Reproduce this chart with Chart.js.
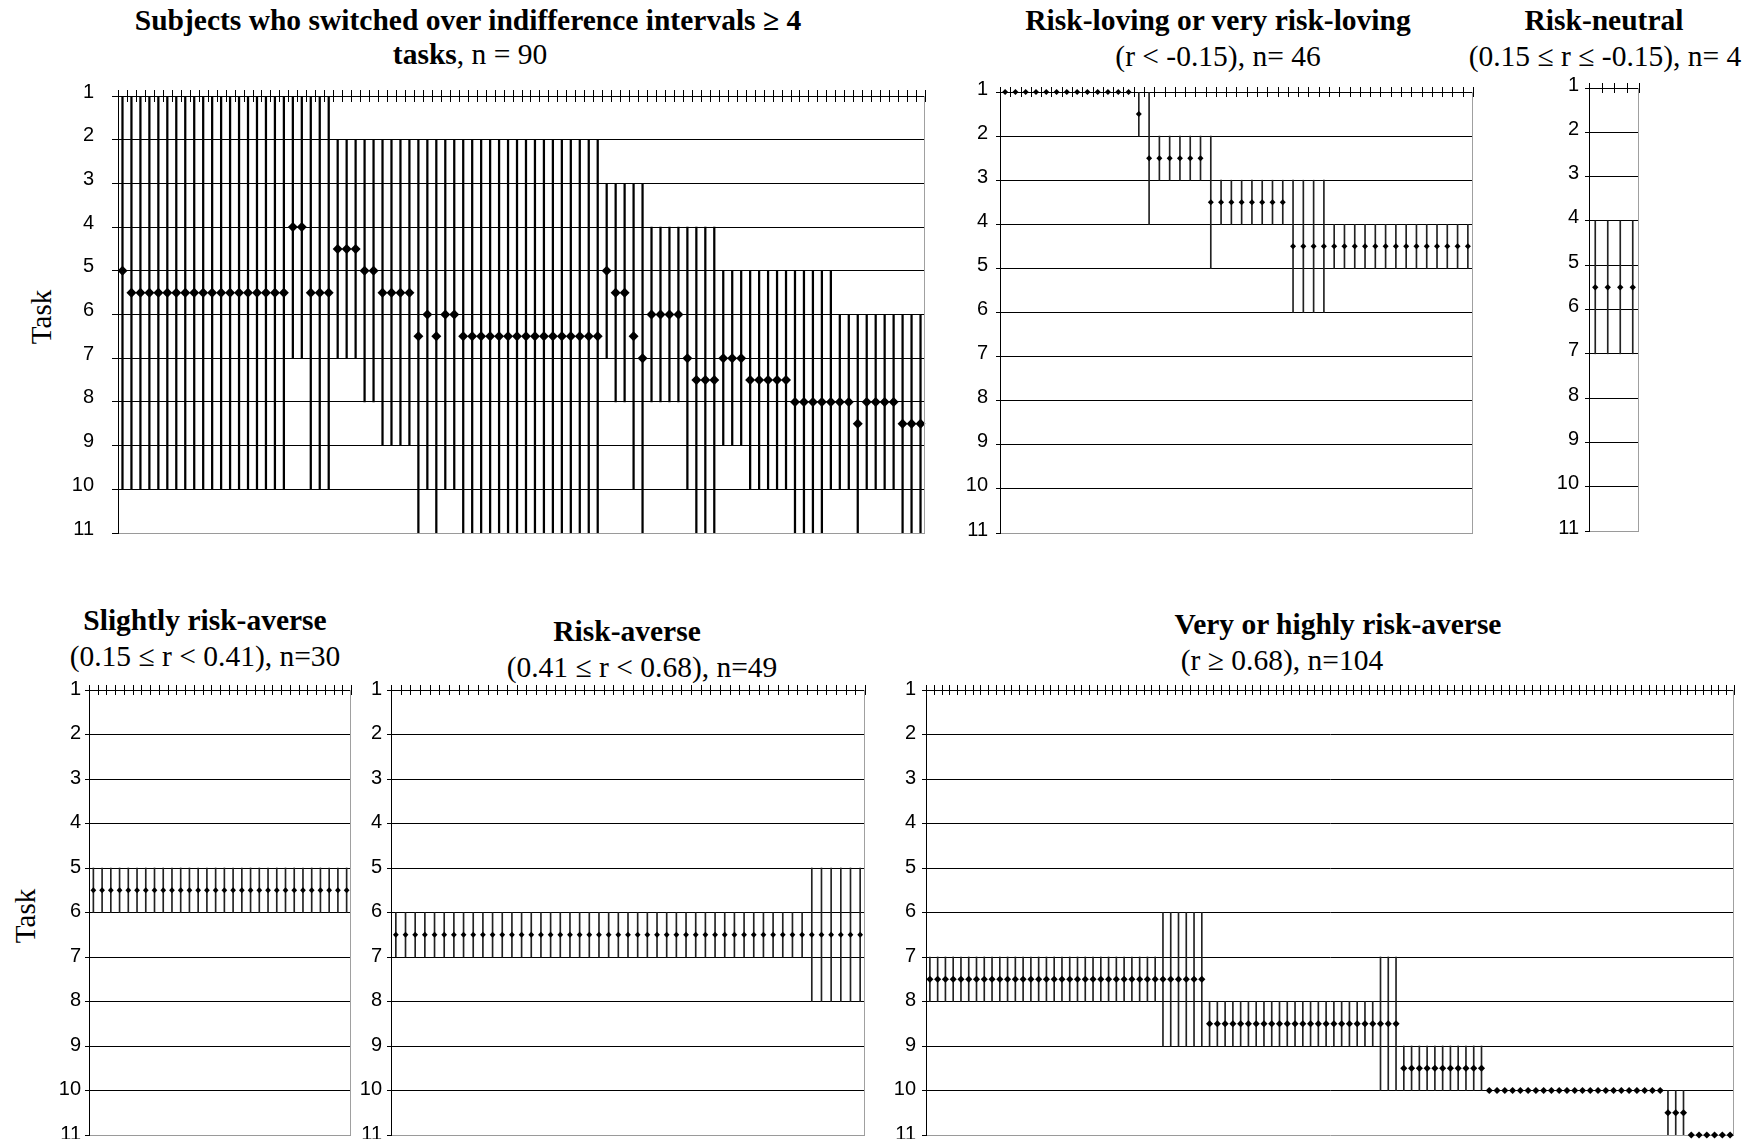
<!DOCTYPE html>
<html>
<head>
<meta charset="utf-8">
<script src="https://cdn.jsdelivr.net/npm/chart.js@4.4.1/dist/chart.umd.min.js"></script>
<style>
  html, body { margin: 0; padding: 0; background: #fff; }
  body { width: 1756px; height: 1139px; position: relative; overflow: hidden; }
  .box { position: absolute; }
  .lbl { position: absolute; transform: translate(-50%, -50%); white-space: nowrap;
         font-family: 'Liberation Serif', 'Times New Roman', serif; font-size: 29.5px; color: #000; }
  .task { position: absolute; transform: translate(-50%, -50%) rotate(-90deg);
          font-family: 'Liberation Serif', 'Times New Roman', serif; font-size: 29px; }
</style>
</head>
<body>

<div class="lbl" style="left:468px;top:20px"><b>Subjects who switched over indifference intervals ≥ 4</b></div>
<div class="lbl" style="left:470px;top:54px"><b>tasks</b>, n = 90</div>
<div class="lbl" style="left:1218px;top:20px"><b>Risk-loving or very risk-loving</b></div>
<div class="lbl" style="left:1218px;top:56px">(r &lt; -0.15), n= 46</div>
<div class="lbl" style="left:1604px;top:20px"><b>Risk-neutral</b></div>
<div class="lbl" style="left:1605px;top:56px">(0.15 ≤ r ≤ -0.15), n= 4</div>
<div class="lbl" style="left:205px;top:620px"><b>Slightly risk-averse</b></div>
<div class="lbl" style="left:205px;top:656px">(0.15 ≤ r &lt; 0.41), n=30</div>
<div class="lbl" style="left:627px;top:631px"><b>Risk-averse</b></div>
<div class="lbl" style="left:642px;top:667px">(0.41 ≤ r &lt; 0.68), n=49</div>
<div class="lbl" style="left:1338px;top:624px"><b>Very or highly risk-averse</b></div>
<div class="lbl" style="left:1282px;top:660px">(r ≥ 0.68), n=104</div>
<div class="task" style="left:41px;top:317px">Task</div>
<div class="task" style="left:25px;top:916px">Task</div>

<div class="box" id="b1"><canvas id="c1"></canvas></div>
<div class="box" id="b2"><canvas id="c2"></canvas></div>
<div class="box" id="b3"><canvas id="c3"></canvas></div>
<div class="box" id="b4"><canvas id="c4"></canvas></div>
<div class="box" id="b5"><canvas id="c5"></canvas></div>
<div class="box" id="b6"><canvas id="c6"></canvas></div>

<script>
// task ticks on the (reversed) y axis
var taskTicks = [1, 2, 3, 4, 5, 6, 7, 8, 9, 10, 11];

// switched over >= 4 tasks, n = 90
var p1Low = [1,1,1,1,1,1,1,1,1,1, 1,1,1,1,1,1,1,1,1,1, 1,1,1,1,2,2,2,2,2,2,
             2,2,2,2,2,2,2,2,2,2, 2,2,2,2,2,2,2,2,2,2, 2,2,2,2,3,3,3,3,3,4,
             4,4,4,4,4,4,4,5,5,5, 5,5,5,5,5,5,5,5,5,5, 6,6,6,6,6,6,6,6,6,6];
var p1High = [10,10,10,10,10,10,10,10,10,10, 10,10,10,10,10,10,10,10,10,7, 7,10,10,10,7,7,7,8,8,9,
              9,9,9,11,10,11,10,10,11,11, 11,11,11,11,11,11,11,11,11,11, 11,11,11,11,7,8,8,10,11,8,
              8,8,8,10,11,11,11,9,9,9, 10,10,10,10,10,11,11,11,11,10, 10,10,11,10,10,10,10,11,11,11];
var p1Mark = [5,5.5,5.5,5.5,5.5,5.5,5.5,5.5,5.5,5.5, 5.5,5.5,5.5,5.5,5.5,5.5,5.5,5.5,5.5,4,
              4,5.5,5.5,5.5,4.5,4.5,4.5,5,5,5.5, 5.5,5.5,5.5,6.5,6,6.5,6,6,6.5,6.5,
              6.5,6.5,6.5,6.5,6.5,6.5,6.5,6.5,6.5,6.5, 6.5,6.5,6.5,6.5,5,5.5,5.5,6.5,7,6,
              6,6,6,7,7.5,7.5,7.5,7,7,7, 7.5,7.5,7.5,7.5,7.5,8,8,8,8,8,
              8,8,8.5,8,8,8,8,8.5,8.5,8.5];

// risk-loving, n = 46
var p2Low = [1,1,1,1,1,1,1,1,1,1, 1,1,1,1,1,2,2,2,2,2, 2,3,3,3,3,3,3,3,3,3,
             3,3,4,4,4,4,4,4,4,4, 4,4,4,4,4,4];
var p2High = [1,1,1,1,1,1,1,1,1,1, 1,1,1,2,4,3,3,3,3,3, 5,4,4,4,4,4,4,4,6,6,
              6,6,5,5,5,5,5,5,5,5, 5,5,5,5,5,5];
var p2Mark = [1,1,1,1,1,1,1,1,1,1, 1,1,1,1.5,2.5,2.5,2.5,2.5,2.5,2.5,
              3.5,3.5,3.5,3.5,3.5,3.5,3.5,3.5,4.5,4.5, 4.5,4.5,4.5,4.5,4.5,4.5,4.5,4.5,4.5,4.5,
              4.5,4.5,4.5,4.5,4.5,4.5];

// risk-neutral, n = 4
var p3Low = [4, 4, 4, 4];
var p3High = [7, 7, 7, 7];
var p3Mark = [5.5, 5.5, 5.5, 5.5];

// slightly risk-averse, n = 30
var p4Low = [5,5,5,5,5,5,5,5,5,5, 5,5,5,5,5,5,5,5,5,5, 5,5,5,5,5,5,5,5,5,5];
var p4High = [6,6,6,6,6,6,6,6,6,6, 6,6,6,6,6,6,6,6,6,6, 6,6,6,6,6,6,6,6,6,6];
var p4Mark = [5.5,5.5,5.5,5.5,5.5,5.5,5.5,5.5,5.5,5.5, 5.5,5.5,5.5,5.5,5.5,5.5,5.5,5.5,5.5,5.5,
              5.5,5.5,5.5,5.5,5.5,5.5,5.5,5.5,5.5,5.5];

// risk-averse, n = 49
var p5Low = [6,6,6,6,6,6,6,6,6,6, 6,6,6,6,6,6,6,6,6,6, 6,6,6,6,6,6,6,6,6,6,
             6,6,6,6,6,6,6,6,6,6, 6,6,6,5,5,5,5,5,5];
var p5High = [7,7,7,7,7,7,7,7,7,7, 7,7,7,7,7,7,7,7,7,7, 7,7,7,7,7,7,7,7,7,7,
              7,7,7,7,7,7,7,7,7,7, 7,7,7,8,8,8,8,8,8];
var p5Mark = [6.5,6.5,6.5,6.5,6.5,6.5,6.5,6.5,6.5,6.5, 6.5,6.5,6.5,6.5,6.5,6.5,6.5,6.5,6.5,6.5,
              6.5,6.5,6.5,6.5,6.5,6.5,6.5,6.5,6.5,6.5, 6.5,6.5,6.5,6.5,6.5,6.5,6.5,6.5,6.5,6.5,
              6.5,6.5,6.5,6.5,6.5,6.5,6.5,6.5,6.5];

// very or highly risk-averse, n = 104
var p6Low = [7,7,7,7,7,7,7,7,7,7, 7,7,7,7,7,7,7,7,7,7, 7,7,7,7,7,7,7,7,7,7,
             6,6,6,6,6,6,8,8,8,8, 8,8,8,8,8,8,8,8,8,8, 8,8,8,8,8,8,8,8,7,7,
             7,9,9,9,9,9,9,9,9,9, 9,9,10,10,10,10,10,10,10,10, 10,10,10,10,10,10,10,10,10,10,
             10,10,10,10,10,10,10,10,11,11, 11,11,11,11];
var p6High = [8,8,8,8,8,8,8,8,8,8, 8,8,8,8,8,8,8,8,8,8, 8,8,8,8,8,8,8,8,8,8,
              9,9,9,9,9,9,9,9,9,9, 9,9,9,9,9,9,9,9,9,9, 9,9,9,9,9,9,9,9,10,10,
              10,10,10,10,10,10,10,10,10,10, 10,10,10,10,10,10,10,10,10,10, 10,10,10,10,10,10,10,10,10,10,
              10,10,10,10,10,11,11,11,11,11, 11,11,11,11];
var p6Mark = [7.5,7.5,7.5,7.5,7.5,7.5,7.5,7.5,7.5,7.5, 7.5,7.5,7.5,7.5,7.5,7.5,7.5,7.5,7.5,7.5,
              7.5,7.5,7.5,7.5,7.5,7.5,7.5,7.5,7.5,7.5, 7.5,7.5,7.5,7.5,7.5,7.5,8.5,8.5,8.5,8.5,
              8.5,8.5,8.5,8.5,8.5,8.5,8.5,8.5,8.5,8.5, 8.5,8.5,8.5,8.5,8.5,8.5,8.5,8.5,8.5,8.5,
              8.5,9.5,9.5,9.5,9.5,9.5,9.5,9.5,9.5,9.5, 9.5,9.5,10,10,10,10,10,10,10,10,
              10,10,10,10,10,10,10,10,10,10, 10,10,10,10,10,10.5,10.5,10.5,11,11,
              11,11,11,11];

// cross ticks on the category axis + grey right edge
var frame = {
  id: 'frame',
  afterDraw: function (chart, args, opts) {
    var ctx = chart.ctx, a = chart.chartArea, x = chart.scales.x;
    var n = chart.data.labels.length;
    var step = n > 1 ? x.getPixelForValue(1) - x.getPixelForValue(0) : (a.right - a.left);
    ctx.save();
    ctx.lineWidth = 1;
    ctx.strokeStyle = '#a0a0a0';
    ctx.beginPath();
    ctx.moveTo(Math.round(a.right) - 0.5, a.top);
    ctx.lineTo(Math.round(a.right) - 0.5, a.bottom);
    ctx.stroke();
    ctx.strokeStyle = '#000';
    ctx.beginPath();
    for (var i = 0; i <= n; i++) {
      var px = Math.round(x.getPixelForValue(0) - step / 2 + i * step) + 0.5;
      ctx.moveTo(px, a.top - opts.up);
      ctx.lineTo(px, a.top + opts.down);
    }
    ctx.stroke();
    ctx.restore();
  }
};

function makePanel(id, box, low, high, mark, st) {
  var el = document.getElementById('b' + id);
  var yW = 60, padV = 40;
  el.style.left = (box.L - yW) + 'px';
  el.style.top = (box.T - padV) + 'px';
  el.style.width = (box.R - box.L + yW + 2) + 'px';
  el.style.height = (box.B - box.T + 2 * padV) + 'px';

  var labels = low.map(function (v, i) { return i + 1; });
  var ranges = low.map(function (v, i) { return [v, high[i]]; });

  return new Chart(document.getElementById('c' + id), {
    type: 'bar',
    data: {
      labels: labels,
      datasets: [{
        type: 'line',
        data: mark,
        showLine: false,
        pointStyle: 'rectRot',
        pointRadius: st.dot,
        pointBackgroundColor: '#000',
        pointBorderWidth: 0,
        clip: false,
        order: 0
      }, {
        type: 'bar',
        data: ranges,
        backgroundColor: st.lineColor,
        barThickness: st.line,
        borderSkipped: false,
        order: 1
      }]
    },
    options: {
      responsive: true,
      maintainAspectRatio: false,
      animation: false,
      events: [],
      layout: { autoPadding: false, padding: { top: padV, bottom: padV, left: 0, right: 2 } },
      plugins: {
        legend: { display: false },
        tooltip: { enabled: false },
        frame: { up: st.up, down: st.down }
      },
      scales: {
        x: { display: false, offset: true },
        y: {
          reverse: true,
          min: 1,
          max: 11,
          afterFit: function (s) { s.width = yW; },
          afterBuildTicks: function (s) {
            s.ticks = taskTicks.map(function (v) { return { value: v }; });
          },
          ticks: {
            padding: st.pad,
            labelOffset: st.lift,
            color: '#000',
            font: { family: "'Liberation Sans', Arial, sans-serif", size: 20 }
          },
          grid: {
            color: function (c) { return c.tick && c.tick.value === 11 ? '#9a9a9a' : '#000'; },
            tickColor: '#000',
            tickLength: st.tick,
            lineWidth: 1
          },
          border: { display: true, color: '#000', width: 1 }
        }
      }
    },
    plugins: [frame]
  });
}

makePanel(1, { L: 118, R: 925, T: 96, B: 533 }, p1Low, p1High, p1Mark,
  { dot: 5, line: 1.6, lineColor: '#000', tick: 6, pad: 18, lift: -4, up: 6, down: 6 });
makePanel(2, { L: 1000, R: 1473, T: 92, B: 533 }, p2Low, p2High, p2Mark,
  { dot: 3, line: 1, lineColor: '#222', tick: 4, pad: 8, lift: -3, up: 5, down: 5 });
makePanel(3, { L: 1589, R: 1639, T: 88, B: 531 }, p3Low, p3High, p3Mark,
  { dot: 3.2, line: 1, lineColor: '#222', tick: 4, pad: 6, lift: -3, up: 5, down: 5 });
makePanel(4, { L: 89, R: 351, T: 690, B: 1135 }, p4Low, p4High, p4Mark,
  { dot: 2.9, line: 1, lineColor: '#222', tick: 4, pad: 4, lift: -1, up: 5, down: 5 });
makePanel(5, { L: 391, R: 865, T: 690, B: 1135 }, p5Low, p5High, p5Mark,
  { dot: 2.9, line: 1, lineColor: '#222', tick: 4, pad: 5, lift: -1, up: 5, down: 5 });
makePanel(6, { L: 926, R: 1734, T: 690, B: 1135 }, p6Low, p6High, p6Mark,
  { dot: 3.6, line: 1, lineColor: '#222', tick: 4, pad: 6, lift: -1, up: 5, down: 5 });
</script>
</body>
</html>
